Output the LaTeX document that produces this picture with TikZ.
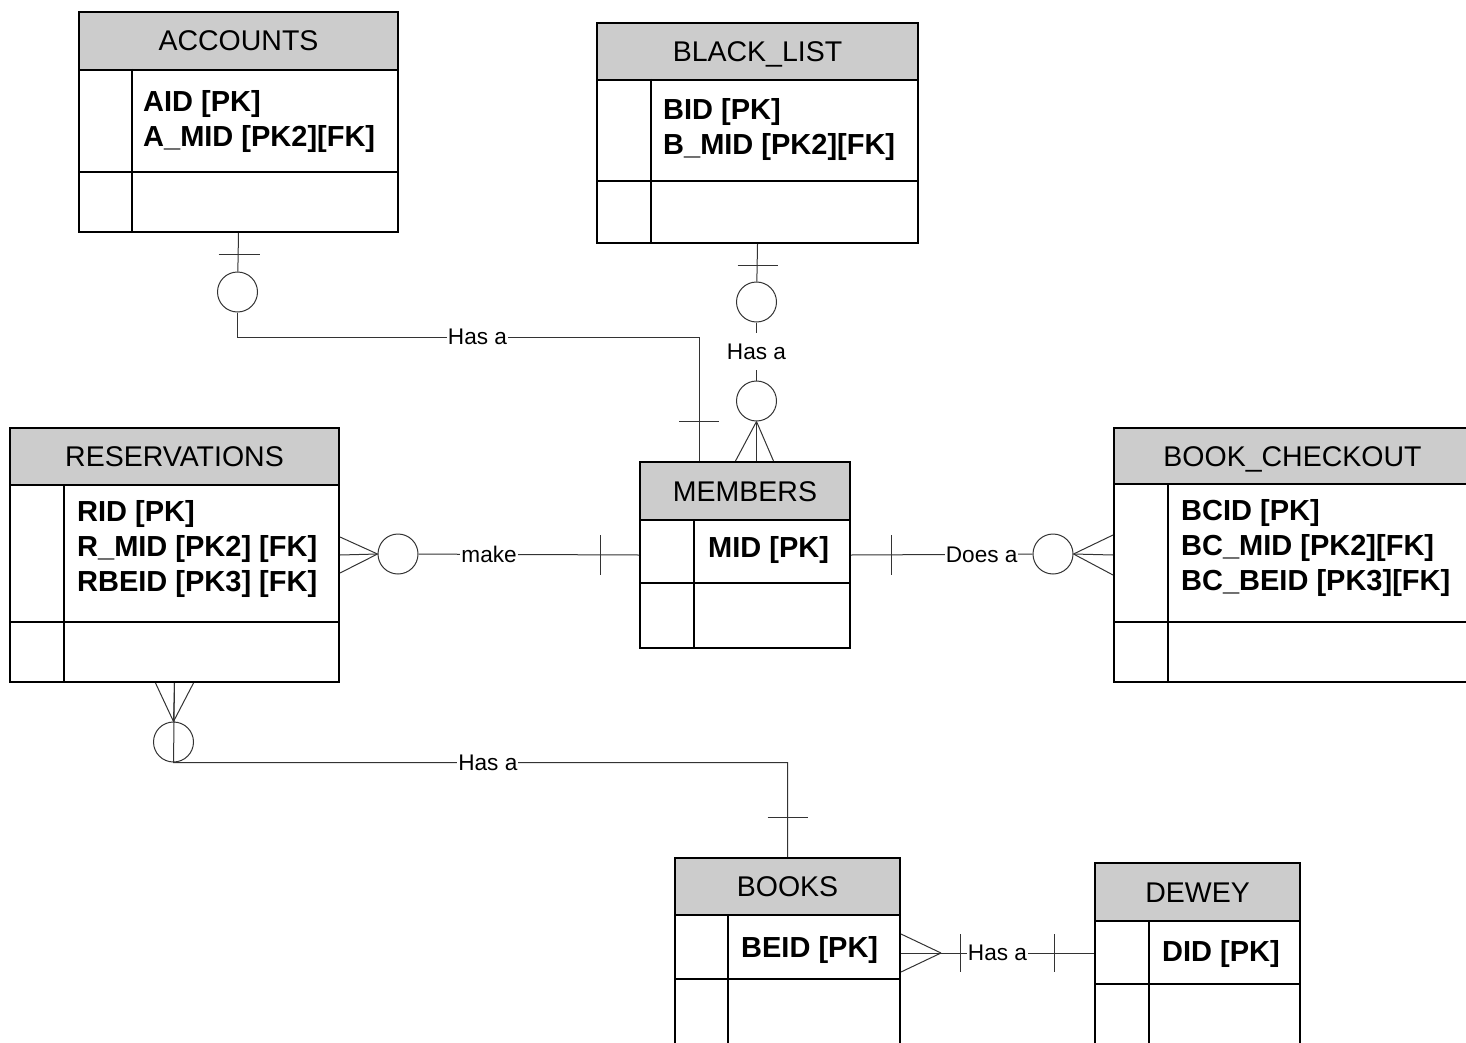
\documentclass[tikz,border=0pt]{standalone}
\usepackage{fontspec}
\setmainfont{Liberation Sans}
\usepackage{tikz}
\usetikzlibrary{positioning,calc}
\definecolor{hdrgray}{HTML}{CCCCCC}
\definecolor{linkgray}{HTML}{333333}

\begin{document}
\begin{tikzpicture}[
    x=1pt, y=-1pt,
    ent/.style={draw, line width=2pt, anchor=north west, inner sep=0pt},
    ttl/.style={draw, fill=hdrgray, line width=2pt, anchor=north west, inner sep=0pt,
      text height=20pt, text depth=0pt, font=\fontsize{28.5}{35}\selectfont},
    rule/.style={line width=2pt},
    attr/.style={anchor=base west, align=left, inner sep=0pt, font=\fontsize{29}{35}\selectfont\bfseries},
    conn/.style={draw=linkgray, line width=1pt},
    opt/.style={circle, draw=linkgray, line width=1pt, fill=white, minimum size=40pt, inner sep=0pt},
    lbl/.style={fill=white, inner xsep=1pt, inner ysep=11pt, font=\fontsize{22.6}{26}\selectfont},
  ]
  \useasboundingbox (0,0) rectangle (1466,1043);

  % tables (attribute nodes sit on the baseline of their last line)
  \node[ent, minimum width=319pt, minimum height=220pt] (acc) at (78,11) {};
  \node[ttl, minimum width=319pt, minimum height=58pt] (acc-t) at (acc.north west) {ACCOUNTS};
  \draw[rule] (78,172) -- (397,172) (132,69) -- (132,231);
  \node[attr] (acc-a) at (143,147) {AID [PK]\\A\_MID [PK2][FK]};

  \node[ent, minimum width=321pt, minimum height=220pt] (bl) at (596,22) {};
  \node[ttl, minimum width=321pt, minimum height=57pt] (bl-t) at (bl.north west) {BLACK\_LIST};
  \draw[rule] (596,181) -- (917,181) (651,79) -- (651,242);
  \node[attr] (bl-a) at (663,155) {BID [PK]\\B\_MID [PK2][FK]};

  \node[ent, minimum width=329pt, minimum height=254pt] (res) at (9,427) {};
  \node[ttl, minimum width=329pt, minimum height=57pt] (res-t) at (res.north west) {RESERVATIONS};
  \draw[rule] (9,622) -- (338,622) (64,484) -- (64,681);
  \node[attr] (res-a) at (77,591) {RID [PK]\\R\_MID [PK2] [FK]\\RBEID [PK3] [FK]};

  \node[ent, minimum width=210pt, minimum height=186pt] (mem) at (639,461) {};
  \node[ttl, minimum width=210pt, minimum height=58pt] (mem-t) at (mem.north west) {MEMBERS};
  \draw[rule] (639,583) -- (849,583) (694,519) -- (694,647);
  \node[attr] (mem-a) at (708,557) {MID [PK]};

  \node[ent, minimum width=357pt, minimum height=254pt] (bc) at (1113,427) {};
  \node[ttl, minimum width=357pt, minimum height=56pt] (bc-t) at (bc.north west) {BOOK\_CHECKOUT};
  \draw[rule] (1113,622) -- (1470,622) (1168,483) -- (1168,681);
  \node[attr] (bc-a) at (1181,590) {BCID [PK]\\BC\_MID [PK2][FK]\\BC\_BEID [PK3][FK]};

  \node[ent, minimum width=225pt, minimum height=190pt] (books) at (674,857) {};
  \node[ttl, minimum width=225pt, minimum height=57pt] (books-t) at (books.north west) {BOOKS};
  \draw[rule] (674,979) -- (899,979) (728,914) -- (728,1047);
  \node[attr] (books-a) at (741,957) {BEID [PK]};

  \node[ent, minimum width=205pt, minimum height=190pt] (dewey) at (1094,862) {};
  \node[ttl, minimum width=205pt, minimum height=58pt] (dewey-t) at (dewey.north west) {DEWEY};
  \draw[rule] (1094,984) -- (1299,984) (1149,920) -- (1149,1052);
  \node[attr] (dewey-a) at (1162,961) {DID [PK]};

  % optional marks
  \node[opt] (acc-o) at (237.5,292) {};
  \node[opt] (bl-o) at (756.5,302) {};
  \node[opt] (mem-o) at (756.5,401) {};
  \node[opt] (res-o) at (398,554) {};
  \node[opt] (bc-o) at (1053,554) {};
  \node[opt] (rb-o) at (173.5,742) {};
  \coordinate (accbend) at (699,337);

  % relationships
  \draw[conn] (acc.south) -- (acc-o);
  \draw[conn] (acc-o.south) |- node[lbl, pos=0.76] {Has a} (accbend) -- (accbend |- mem.north);
  \draw[conn] ($(acc.south)+(-20,21)$) -- ++(41,0);
  \draw[conn] ($(accbend |- mem.north)+(-20,-40)$) -- ++(40,0);

  \draw[conn] (bl.south) -- (bl-o);
  \draw[conn] (bl-o) -- node[lbl] {Has a} (mem-o);
  \draw[conn] ($(bl.south)+(-20,21)$) -- ++(40,0);
  \foreach \dx in {-21,0,17}
    \draw[conn] (mem-o.south) -- ($(mem-o.south |- mem.north)+(\dx,0)$);

  \draw[conn] (res-o) -- node[lbl, pos=0.32] {make} (mem.west);
  \draw[conn] ($(mem.west)+(-39,-20)$) -- ++(0,40);
  \foreach \dy in {-18,0,18}
    \draw[conn] (res-o.west) -- ($(res.east)+(0,\dy)$);

  \draw[conn] (mem.east) -- node[lbl, pos=0.72] {Does a} (bc-o);
  \draw[conn] ($(mem.east)+(40,-20)$) -- ++(0,40);
  \foreach \dy in {-20,0,20}
    \draw[conn] (bc-o.east) -- ($(bc.west)+(0,\dy)$);

  \draw[conn] (res.south) -- (rb-o.south) -| node[lbl, pos=0.256] {Has a} (books.north);
  \draw[conn] ($(books.north)+(-20,-40)$) -- ++(40,0);
  \foreach \dx in {-19,0,19}
    \draw[conn] (rb-o.north) -- ($(res.south)+(\dx,0)$);

  \draw[conn] (books.east) -- node[lbl] {Has a} (dewey.west |- books.east);
  \draw[conn] ($(books.east)+(59.5,-19)$) -- ++(0,38);
  \draw[conn] ($(dewey.west |- books.east)+(-40,-19)$) -- ++(0,38);
  \foreach \dy in {-19,0,19}
    \draw[conn] ($(books.east)+(40,0)$) -- ($(books.east)+(0,\dy)$);
\end{tikzpicture}
\end{document}
